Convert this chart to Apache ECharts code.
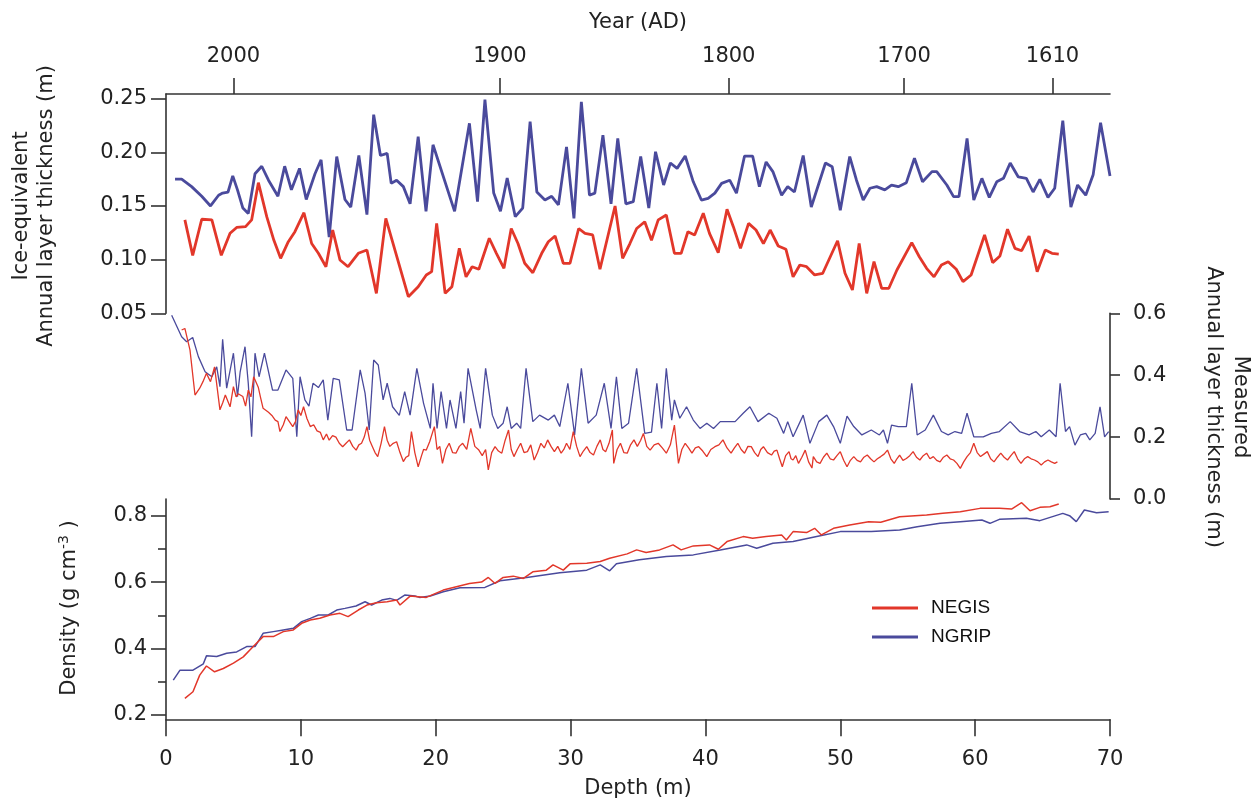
<!DOCTYPE html>
<html><head><meta charset="utf-8">
<script src="https://cdn.jsdelivr.net/npm/echarts@6/dist/echarts.min.js"></script>
<style>html,body{margin:0;padding:0;background:#fff}#c{width:1260px;height:802px}</style>
</head><body><div id="c"></div>
<script>
// ---------- tick labels ----------
const yearLabels = [2000, 1900, 1800, 1700, 1610];
const yearDepths = [5.0, 24.76, 41.73, 54.73, 65.73];
const iceTicks = [0.05, 0.10, 0.15, 0.20, 0.25];
const densityTicks = [0.2, 0.4, 0.6, 0.8];
const densityMinorTicks = [0.3, 0.5, 0.7];
const seriesNames = ['NEGIS', 'NGRIP'];

// ---------- ice-equivalent annual layer thickness (m) [depth, value] ----------
const ngripIce = [[0.67,0.175],[1.16,0.175],[1.9,0.168],[2.65,0.159],[3.3,0.150],[3.9,0.160],[4.2,0.162],[4.6,0.163],[4.95,0.178],[5.3,0.165],[5.7,0.148],[6.1,0.143],[6.6,0.180],[7.1,0.187],[7.6,0.174],[8.3,0.159],[8.8,0.187],[9.3,0.165],[9.9,0.185],[10.4,0.156],[11.05,0.180],[11.5,0.193],[12.1,0.121],[12.66,0.196],[13.27,0.156],[13.7,0.149],[14.3,0.197],[14.9,0.142],[15.4,0.235],[15.9,0.197],[16.4,0.199],[16.7,0.171],[17.1,0.174],[17.6,0.168],[18.1,0.152],[18.7,0.2145],[19.28,0.145],[19.8,0.207],[21.4,0.145],[22.5,0.227],[23.1,0.154],[23.65,0.249],[24.3,0.162],[24.8,0.145],[25.3,0.176],[25.9,0.140],[26.45,0.148],[27.0,0.2285],[27.5,0.163],[28.1,0.1555],[28.6,0.159],[29.1,0.151],[29.7,0.205],[30.25,0.1385],[30.8,0.247],[31.4,0.160],[31.8,0.162],[32.4,0.216],[33.0,0.152],[33.5,0.213],[34.1,0.152],[34.65,0.154],[35.2,0.196],[35.8,0.148],[36.3,0.2005],[36.9,0.1695],[37.4,0.190],[37.9,0.185],[38.5,0.1965],[39.1,0.1725],[39.7,0.1555],[40.2,0.157],[40.7,0.162],[41.2,0.171],[41.8,0.174],[42.3,0.162],[42.9,0.1965],[43.5,0.1965],[44.0,0.168],[44.5,0.191],[45.0,0.182],[45.65,0.160],[46.1,0.168],[46.6,0.163],[47.25,0.197],[47.85,0.149],[48.9,0.190],[49.4,0.1865],[50.0,0.146],[50.7,0.196],[51.2,0.174],[51.7,0.1555],[52.2,0.1665],[52.7,0.168],[53.3,0.165],[53.8,0.1695],[54.3,0.168],[54.9,0.1717],[55.5,0.1944],[56.1,0.1725],[56.8,0.182],[57.15,0.182],[57.9,0.1695],[58.4,0.1587],[58.8,0.1587],[59.4,0.213],[59.9,0.1555],[60.5,0.1757],[61.05,0.158],[61.6,0.1725],[62.1,0.1757],[62.6,0.190],[63.2,0.177],[63.8,0.1757],[64.3,0.163],[64.8,0.1748],[65.4,0.158],[65.9,0.1665],[66.5,0.2294],[67.1,0.149],[67.6,0.1695],[68.2,0.160],[68.75,0.179],[69.3,0.2276],[70.0,0.178]];
const negisIce = [[1.4,0.137],[1.98,0.104],[2.65,0.1376],[3.4,0.137],[4.1,0.104],[4.75,0.1245],[5.24,0.130],[5.9,0.1307],[6.35,0.137],[6.85,0.1717],[7.47,0.140],[8.0,0.118],[8.5,0.1012],[9.07,0.1167],[9.56,0.126],[10.23,0.1437],[10.8,0.115],[11.3,0.1059],[11.86,0.0934],[12.36,0.1276],[12.9,0.0997],[13.5,0.0934],[14.26,0.1059],[14.9,0.109],[15.6,0.0686],[16.3,0.1385],[17.97,0.0655],[18.7,0.0748],[19.3,0.0857],[19.7,0.0888],[20.07,0.1338],[20.7,0.0686],[21.2,0.0748],[21.75,0.1105],[22.25,0.084],[22.7,0.0934],[23.2,0.091],[23.97,0.1199],[24.5,0.1059],[25.06,0.0919],[25.6,0.129],[26.1,0.115],[26.6,0.0966],[27.2,0.0878],[27.86,0.1059],[28.35,0.1167],[28.85,0.122],[29.46,0.0966],[29.96,0.0966],[30.6,0.129],[31.07,0.1245],[31.64,0.123],[32.18,0.091],[33.3,0.150],[33.86,0.1012],[34.4,0.115],[34.9,0.129],[35.5,0.1353],[36.0,0.118],[36.5,0.137],[37.1,0.1416],[37.7,0.1059],[38.2,0.1059],[38.7,0.126],[39.2,0.123],[39.84,0.1432],[40.3,0.1245],[40.95,0.1065],[41.6,0.1469],[42.07,0.1307],[42.6,0.1105],[43.2,0.1338],[43.75,0.1276],[44.3,0.115],[44.8,0.1276],[45.4,0.1127],[45.97,0.1096],[46.5,0.084],[47.0,0.095],[47.5,0.0934],[48.1,0.0857],[48.7,0.0873],[49.8,0.1176],[50.35,0.0873],[50.9,0.0717],[51.4,0.115],[51.96,0.0686],[52.5,0.0981],[53.07,0.0733],[53.6,0.0733],[54.2,0.0903],[55.3,0.1158],[55.86,0.1027],[56.4,0.0919],[56.95,0.084],[57.5,0.095],[58.0,0.0981],[58.6,0.091],[59.1,0.0795],[59.7,0.0857],[60.7,0.123],[61.3,0.0972],[61.84,0.1034],[62.4,0.1283],[62.95,0.1105],[63.45,0.1083],[64.0,0.122],[64.6,0.0888],[65.2,0.109],[65.7,0.1059],[66.2,0.1052]];

// ---------- measured annual layer thickness (m) ----------
const ngripMeasured = [[0.42,0.594],[1.16,0.524],[1.53,0.508],[1.98,0.522],[2.4,0.46],[2.9,0.411],[3.4,0.395],[3.76,0.427],[4.0,0.363],[4.2,0.516],[4.5,0.358],[5.0,0.471],[5.3,0.331],[5.5,0.411],[5.86,0.492],[6.1,0.374],[6.35,0.201],[6.6,0.471],[6.9,0.395],[7.3,0.471],[7.9,0.352],[8.3,0.352],[8.9,0.417],[9.4,0.39],[9.7,0.201],[9.94,0.395],[10.3,0.32],[10.6,0.30],[10.9,0.374],[11.3,0.36],[11.66,0.385],[12.0,0.255],[12.4,0.39],[12.85,0.385],[13.4,0.223],[13.8,0.223],[14.4,0.417],[14.76,0.342],[15.07,0.223],[15.4,0.449],[15.74,0.433],[16.1,0.32],[16.4,0.374],[16.8,0.298],[17.3,0.27],[17.7,0.347],[18.1,0.271],[18.6,0.422],[19.1,0.309],[19.6,0.228],[19.8,0.374],[20.1,0.228],[20.4,0.347],[20.8,0.228],[21.06,0.32],[21.5,0.228],[21.85,0.347],[22.1,0.245],[22.4,0.422],[23.0,0.288],[23.3,0.228],[23.7,0.422],[24.2,0.271],[24.6,0.228],[25.0,0.245],[25.3,0.298],[25.6,0.228],[26.0,0.245],[26.3,0.228],[26.7,0.422],[27.2,0.25],[27.7,0.271],[28.35,0.255],[28.8,0.271],[29.2,0.234],[29.8,0.374],[30.3,0.207],[30.8,0.422],[31.3,0.245],[31.9,0.271],[32.5,0.374],[33.0,0.228],[33.4,0.395],[33.8,0.228],[34.3,0.245],[34.9,0.422],[35.5,0.212],[36.0,0.216],[36.4,0.374],[36.75,0.228],[37.1,0.422],[37.5,0.255],[37.7,0.32],[38.1,0.261],[38.6,0.298],[39.1,0.255],[39.6,0.228],[40.1,0.245],[40.6,0.228],[41.1,0.25],[42.2,0.25],[42.8,0.277],[43.3,0.298],[43.9,0.25],[44.7,0.277],[45.3,0.261],[45.8,0.212],[46.1,0.25],[46.5,0.201],[47.25,0.271],[47.75,0.18],[48.4,0.25],[49.0,0.271],[49.5,0.234],[50.0,0.18],[50.5,0.268],[51.0,0.234],[51.6,0.207],[52.3,0.223],[52.9,0.207],[53.2,0.223],[53.5,0.18],[53.8,0.239],[54.3,0.234],[54.9,0.234],[55.3,0.374],[55.7,0.207],[56.3,0.223],[56.9,0.271],[57.5,0.218],[58.0,0.207],[58.5,0.218],[59.0,0.212],[59.4,0.277],[59.9,0.201],[60.6,0.201],[61.2,0.212],[61.8,0.218],[62.6,0.25],[63.3,0.218],[64.0,0.207],[64.5,0.218],[64.9,0.201],[65.5,0.223],[66.0,0.201],[66.3,0.374],[66.7,0.218],[67.0,0.234],[67.4,0.174],[67.8,0.207],[68.2,0.212],[68.5,0.191],[68.9,0.212],[69.26,0.298],[69.6,0.201],[69.9,0.218]];
const negisMeasured = [[1.16,0.546],[1.4,0.551],[1.78,0.481],[2.15,0.336],[2.5,0.358],[2.75,0.38],[3.0,0.406],[3.3,0.379],[3.6,0.427],[4.0,0.288],[4.2,0.31],[4.4,0.336],[4.75,0.298],[5.0,0.363],[5.2,0.33],[5.35,0.34],[5.7,0.331],[5.9,0.30],[6.1,0.352],[6.3,0.33],[6.5,0.395],[6.85,0.36],[7.0,0.33],[7.2,0.293],[7.6,0.28],[7.85,0.27],[8.1,0.255],[8.3,0.25],[8.45,0.218],[8.7,0.24],[8.9,0.266],[9.15,0.25],[9.4,0.234],[9.6,0.25],[9.8,0.288],[10.0,0.27],[10.2,0.298],[10.45,0.26],[10.7,0.234],[10.95,0.24],[11.2,0.22],[11.45,0.215],[11.66,0.191],[11.9,0.21],[12.1,0.19],[12.35,0.205],[12.6,0.2],[12.85,0.18],[13.1,0.169],[13.35,0.18],[13.6,0.191],[13.85,0.17],[14.1,0.158],[14.3,0.175],[14.5,0.18],[14.7,0.2],[14.9,0.234],[15.1,0.19],[15.3,0.17],[15.5,0.15],[15.7,0.137],[15.95,0.18],[16.2,0.234],[16.4,0.19],[16.6,0.17],[16.85,0.18],[17.1,0.185],[17.35,0.15],[17.6,0.121],[17.8,0.135],[18.0,0.14],[18.2,0.218],[18.45,0.15],[18.7,0.104],[18.95,0.14],[19.1,0.16],[19.3,0.158],[19.55,0.185],[19.9,0.234],[20.1,0.16],[20.3,0.17],[20.5,0.115],[20.75,0.16],[21.0,0.18],[21.25,0.15],[21.5,0.148],[21.75,0.17],[22.0,0.18],[22.3,0.16],[22.6,0.228],[22.9,0.17],[23.2,0.158],[23.45,0.14],[23.7,0.16],[23.9,0.094],[24.15,0.15],[24.4,0.169],[24.65,0.155],[24.9,0.148],[25.15,0.19],[25.4,0.223],[25.6,0.16],[25.8,0.137],[26.05,0.16],[26.3,0.18],[26.55,0.15],[26.8,0.153],[27.05,0.175],[27.3,0.126],[27.55,0.15],[27.8,0.18],[28.05,0.165],[28.3,0.191],[28.55,0.17],[28.8,0.153],[29.05,0.17],[29.3,0.148],[29.5,0.16],[29.7,0.18],[29.95,0.16],[30.2,0.218],[30.45,0.17],[30.7,0.137],[30.95,0.155],[31.2,0.169],[31.45,0.15],[31.7,0.142],[31.95,0.17],[32.2,0.191],[32.4,0.16],[32.6,0.153],[32.85,0.18],[33.1,0.223],[33.2,0.115],[33.45,0.16],[33.7,0.18],[33.95,0.15],[34.2,0.148],[34.45,0.175],[34.7,0.191],[34.95,0.17],[35.2,0.19],[35.4,0.212],[35.65,0.17],[35.9,0.158],[36.2,0.175],[36.5,0.18],[36.8,0.165],[37.1,0.148],[37.4,0.175],[37.7,0.239],[38.0,0.115],[38.25,0.16],[38.5,0.18],[38.75,0.165],[39.0,0.148],[39.25,0.165],[39.5,0.169],[39.8,0.155],[40.1,0.137],[40.4,0.16],[40.7,0.169],[41.0,0.175],[41.3,0.191],[41.6,0.165],[41.9,0.148],[42.15,0.165],[42.4,0.18],[42.65,0.16],[42.9,0.148],[43.15,0.17],[43.4,0.169],[43.65,0.15],[43.9,0.137],[44.1,0.16],[44.3,0.169],[44.6,0.15],[44.9,0.142],[45.1,0.155],[45.3,0.158],[45.5,0.13],[45.7,0.104],[45.95,0.14],[46.2,0.153],[46.35,0.13],[46.5,0.126],[46.7,0.14],[46.9,0.115],[47.15,0.135],[47.4,0.158],[47.65,0.12],[47.9,0.1],[48.0,0.137],[48.25,0.12],[48.5,0.115],[48.75,0.135],[49.0,0.148],[49.25,0.13],[49.5,0.126],[49.75,0.14],[50.0,0.153],[50.25,0.125],[50.5,0.104],[50.75,0.125],[51.0,0.137],[51.25,0.125],[51.5,0.12],[51.75,0.135],[52.0,0.142],[52.25,0.13],[52.5,0.12],[52.75,0.13],[53.0,0.137],[53.25,0.145],[53.5,0.158],[53.75,0.13],[54.0,0.115],[54.2,0.13],[54.4,0.142],[54.65,0.125],[54.9,0.131],[55.15,0.14],[55.4,0.153],[55.65,0.135],[55.9,0.126],[56.15,0.14],[56.4,0.148],[56.65,0.13],[56.9,0.137],[57.15,0.125],[57.4,0.12],[57.65,0.135],[57.9,0.142],[58.15,0.13],[58.4,0.126],[58.65,0.115],[58.9,0.099],[59.15,0.12],[59.4,0.137],[59.65,0.15],[59.9,0.18],[60.15,0.15],[60.4,0.137],[60.65,0.145],[60.9,0.153],[61.15,0.13],[61.4,0.12],[61.65,0.135],[61.9,0.148],[62.15,0.135],[62.4,0.126],[62.65,0.14],[62.9,0.153],[63.15,0.13],[63.4,0.115],[63.65,0.13],[63.9,0.137],[64.15,0.13],[64.4,0.126],[64.65,0.12],[64.9,0.11],[65.15,0.12],[65.4,0.126],[65.65,0.12],[65.9,0.115],[66.1,0.12]];

// ---------- density (g cm-3) ----------
const ngripDensity = [[0.54,0.305],[1.04,0.335],[2.0,0.335],[2.77,0.354],[3.0,0.378],[3.76,0.376],[4.5,0.386],[5.24,0.39],[5.98,0.406],[6.6,0.406],[7.2,0.446],[7.96,0.451],[8.7,0.456],[9.44,0.461],[10.06,0.481],[10.7,0.491],[11.3,0.501],[12.03,0.501],[12.66,0.516],[13.27,0.521],[14.09,0.528],[14.76,0.541],[15.25,0.531],[16.0,0.546],[16.6,0.551],[17.1,0.545],[17.7,0.561],[18.46,0.558],[18.8,0.554],[19.6,0.558],[20.56,0.571],[21.8,0.583],[23.65,0.584],[24.77,0.604],[26.75,0.614],[29.2,0.628],[31.2,0.636],[32.2,0.652],[32.9,0.634],[33.4,0.655],[35.1,0.667],[37.1,0.677],[39.1,0.682],[41.1,0.697],[43.06,0.712],[43.8,0.702],[45.0,0.717],[46.5,0.722],[48.25,0.737],[50.0,0.752],[52.3,0.752],[54.4,0.757],[55.7,0.767],[57.4,0.777],[58.9,0.782],[60.5,0.787],[61.1,0.777],[61.8,0.789],[63.8,0.792],[64.8,0.785],[66.5,0.807],[67.0,0.80],[67.5,0.782],[68.1,0.817],[69.0,0.809],[69.9,0.812]];
const negisDensity = [[1.4,0.25],[2.0,0.27],[2.5,0.32],[3.0,0.3475],[3.6,0.330],[4.25,0.34],[5.0,0.356],[5.73,0.375],[6.47,0.406],[7.2,0.436],[7.96,0.436],[8.7,0.451],[9.44,0.456],[10.06,0.476],[10.7,0.486],[11.4,0.491],[12.16,0.501],[12.9,0.506],[13.5,0.496],[14.26,0.516],[14.9,0.531],[15.6,0.538],[16.4,0.541],[17.1,0.546],[17.35,0.531],[18.1,0.558],[19.3,0.554],[20.56,0.576],[22.5,0.596],[23.4,0.60],[23.9,0.614],[24.4,0.596],[25.0,0.614],[25.75,0.618],[26.5,0.611],[27.2,0.631],[28.2,0.636],[28.7,0.652],[29.46,0.636],[29.96,0.655],[31.2,0.657],[32.2,0.662],[32.9,0.672],[34.2,0.685],[34.9,0.697],[35.6,0.689],[36.6,0.697],[37.6,0.712],[38.2,0.697],[39.1,0.709],[40.3,0.712],[40.96,0.699],[41.6,0.722],[42.8,0.737],[43.5,0.732],[44.5,0.737],[45.65,0.742],[46.0,0.727],[46.5,0.752],[47.5,0.749],[48.1,0.762],[48.6,0.742],[49.5,0.762],[50.7,0.772],[52.1,0.782],[53.0,0.780],[54.4,0.797],[56.4,0.802],[57.6,0.807],[58.9,0.812],[60.36,0.822],[61.8,0.822],[62.7,0.820],[63.45,0.839],[64.07,0.815],[64.8,0.825],[65.55,0.827],[66.2,0.835]];

// ---------- styling ----------
const FONT = 'DejaVu Sans';
const TXT = '#222';
const AX = '#333';
const RED = '#e2372a';
const BLUE = '#4a4a9c';
const labelStyle = {fontFamily: FONT, fontSize: 21, color: TXT};
const axLine = {show: true, onZero: false, lineStyle: {color: AX, width: 1.6}};
const tickStyle = {color: AX, width: 1.6};

const GL = 166, GW = 944;
const chart = echarts.init(document.getElementById('c'), null, {renderer: 'canvas'});

function nearestYear(v) {
  let best = 0;
  for (let i = 1; i < yearDepths.length; i++) if (Math.abs(yearDepths[i] - v) < Math.abs(yearDepths[best] - v)) best = i;
  return String(yearLabels[best]);
}

const option = {
  animation: false,
  backgroundColor: '#fff',
  grid: [
    {left: GL, width: GW, top: 94, height: 219.3},
    {left: GL, width: GW, top: 313.3, height: 185.7},
    {left: GL, width: GW, top: 499, height: 220.3}
  ],
  xAxis: [
    {gridIndex: 0, type: 'value', position: 'top', min: 0, max: 70,
      axisLine: axLine, splitLine: {show: false},
      axisTick: {show: true, customValues: yearDepths, length: 16, lineStyle: tickStyle},
      axisLabel: Object.assign({customValues: yearDepths, margin: 27, formatter: nearestYear}, labelStyle)},
    {gridIndex: 1, type: 'value', min: 0, max: 70, show: false},
    {gridIndex: 2, type: 'value', position: 'bottom', min: 0, max: 70, interval: 10,
      axisLine: axLine, splitLine: {show: false},
      axisTick: {show: true, length: 17, lineStyle: tickStyle},
      axisLabel: Object.assign({margin: 30, showMinLabel: true, showMaxLabel: true}, labelStyle)}
  ],
  yAxis: [
    {gridIndex: 0, type: 'value', position: 'left', min: 0.05, max: 0.2543,
      axisLine: axLine, splitLine: {show: false},
      axisTick: {show: true, customValues: iceTicks, length: 15, lineStyle: tickStyle},
      axisLabel: Object.assign({customValues: iceTicks, margin: 19, formatter: v => v.toFixed(2)}, labelStyle)},
    {gridIndex: 1, type: 'value', position: 'right', min: 0, max: 0.6, interval: 0.2,
      axisLine: axLine, splitLine: {show: false},
      axisTick: {show: true, length: 10, lineStyle: tickStyle},
      axisLabel: Object.assign({margin: 23, showMinLabel: true, showMaxLabel: true, formatter: v => v.toFixed(1)}, labelStyle)},
    {gridIndex: 2, type: 'value', position: 'left', min: 0.18706, max: 0.8502,
      axisLine: axLine, splitLine: {show: false},
      axisTick: {show: true, customValues: densityTicks, length: 15, lineStyle: tickStyle},
      axisLabel: Object.assign({customValues: densityTicks, margin: 19, formatter: v => v.toFixed(1)}, labelStyle)},
    {gridIndex: 2, type: 'value', position: 'left', min: 0.18706, max: 0.8502,
      axisLine: {show: false}, splitLine: {show: false},
      axisTick: {show: true, customValues: densityMinorTicks, length: 8, lineStyle: tickStyle},
      axisLabel: {show: false}}
  ],
  legend: {
    data: seriesNames, orient: 'vertical', left: 872, top: 597, padding: 0,
    icon: 'rect', itemWidth: 46, itemHeight: 3, itemGap: 7,
    textStyle: {fontFamily: 'Liberation Sans', fontSize: 19, color: '#111', lineHeight: 22, padding: [0, 0, 0, 8]}
  },
  series: [
    {name: seriesNames[1], type: 'line', xAxisIndex: 0, yAxisIndex: 0, data: ngripIce, color: BLUE, showSymbol: false, symbol: 'none', lineStyle: {width: 2.8, color: BLUE}},
    {name: seriesNames[0], type: 'line', xAxisIndex: 0, yAxisIndex: 0, data: negisIce, color: RED, showSymbol: false, symbol: 'none', lineStyle: {width: 2.8, color: RED}},
    {name: seriesNames[1], type: 'line', xAxisIndex: 1, yAxisIndex: 1, data: ngripMeasured, color: BLUE, symbol: 'none', lineStyle: {width: 1.3, color: BLUE}},
    {name: seriesNames[0], type: 'line', xAxisIndex: 1, yAxisIndex: 1, data: negisMeasured, color: RED, symbol: 'none', lineStyle: {width: 1.3, color: RED}},
    {name: seriesNames[1], type: 'line', xAxisIndex: 2, yAxisIndex: 2, data: ngripDensity, color: BLUE, symbol: 'none', lineStyle: {width: 1.5, color: BLUE}},
    {name: seriesNames[0], type: 'line', xAxisIndex: 2, yAxisIndex: 2, data: negisDensity, color: RED, symbol: 'none', lineStyle: {width: 1.5, color: RED}}
  ],
  graphic: [
    {type: 'text', x: 638, y: 23, style: {text: 'Year (AD)', fontFamily: FONT, fontSize: 21, fill: TXT, align: 'center', verticalAlign: 'middle'}},
    {type: 'text', x: 638, y: 789, style: {text: 'Depth (m)', fontFamily: FONT, fontSize: 21, fill: TXT, align: 'center', verticalAlign: 'middle'}},
    {type: 'text', x: 22, y: 206, rotation: Math.PI / 2, style: {text: 'Ice-equivalent', fontFamily: FONT, fontSize: 21, fill: TXT, align: 'center', verticalAlign: 'middle'}},
    {type: 'text', x: 47, y: 206, rotation: Math.PI / 2, style: {text: 'Annual layer thickness (m)', fontFamily: FONT, fontSize: 21, fill: TXT, align: 'center', verticalAlign: 'middle'}},
    {type: 'text', x: 1240, y: 407, rotation: -Math.PI / 2, style: {text: 'Measured', fontFamily: FONT, fontSize: 21, fill: TXT, align: 'center', verticalAlign: 'middle'}},
    {type: 'text', x: 1213, y: 407, rotation: -Math.PI / 2, style: {text: 'Annual layer thickness (m)', fontFamily: FONT, fontSize: 21, fill: TXT, align: 'center', verticalAlign: 'middle'}},
    {type: 'text', x: 70, y: 608, rotation: Math.PI / 2, style: {
      text: '{a|Density (g cm}{s|-3}{a| )}', align: 'center', verticalAlign: 'middle',
      rich: {
        a: {fontFamily: FONT, fontSize: 21, fill: TXT, lineHeight: 26},
        s: {fontFamily: FONT, fontSize: 14, fill: TXT, lineHeight: 26, verticalAlign: 'top'}
      }}}
  ]
};
chart.setOption(option);
</script>
</body></html>
